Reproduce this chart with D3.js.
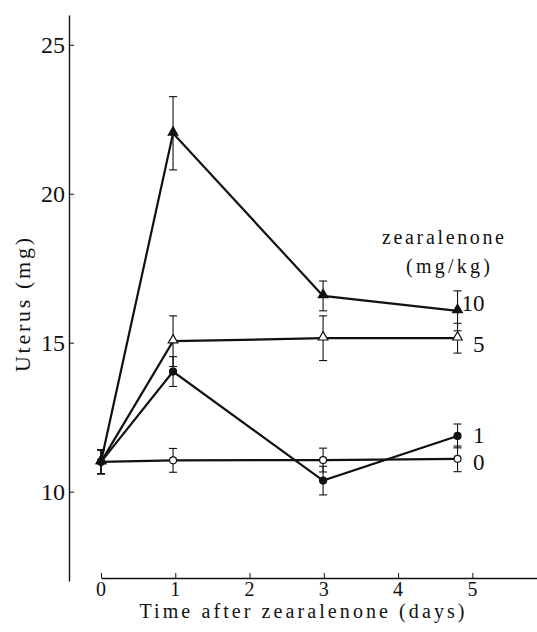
<!DOCTYPE html>
<html>
<head>
<meta charset="utf-8">
<script src="https://cdn.jsdelivr.net/npm/d3@7"></script>
</head>
<body style="margin:0">
<div id="chart"></div>
<script>
// days after injection (as plotted)
var days = [0, 0.97, 2.99, 4.8];

// uterus weight (mg), mean and error for each dose
var dose0 = [11.0, 11.05, 11.06, 11.1];
var err0 = [0.4, 0.4, 0.4, 0.43];
var dose1 = [11.0, 14.03, 10.37, 11.87];
var err1 = [0.4, 0.5, 0.48, 0.4];
var dose5 = [11.0, 15.05, 15.15, 15.15];
var err5 = [0.4, 0.85, 0.75, 0.5];
var dose10 = [11.0, 22.03, 16.57, 16.07];
var err10 = [0.4, 1.23, 0.5, 0.67];

var doseLabels = ['0', '1', '5', '10'];
var xTicks = [0, 1, 2, 3, 4, 5];
var yTicks = [10, 15, 20, 25];

var width = 537, height = 632;
var fontName = 'Liberation Serif';

var svg = d3.select('#chart')
	.append('svg')
	.attr('width', width)
	.attr('height', height);

var x = d3.scaleLinear().domain([0, 5.87]).range([101, 537]);
var y = d3.scaleLinear().domain([7, 26]).range([581, 15]);

// plain text helper, font set both ways
function addText(parent, txt, size) {
	return parent.append('text')
		.attr('font-family', fontName)
		.attr('font-size', size)
		.style('font-family', '"' + fontName + '"')
		.style('font-size', size + 'px')
		.attr('fill', '#111')
		.text(txt);
}

// y axis, ticks pointing inward, labels drawn by hand
var yAxis = svg.append('g')
	.attr('transform', 'translate(69,0)')
	.call(d3.axisLeft(y).tickValues(yTicks).tickFormat('').tickSizeInner(-5).tickSizeOuter(0));
yAxis.select('.domain').attr('stroke', '#111').attr('stroke-width', 1.4);
yAxis.selectAll('.tick line').attr('stroke', '#111');
yTicks.forEach(function (t) {
	addText(svg, String(t), 24)
		.attr('x', 65)
		.attr('y', y(t))
		.attr('dy', '0.34em')
		.attr('text-anchor', 'end');
});

// x axis, separate line starting at day 0
var xAxis = svg.append('g')
	.attr('transform', 'translate(0,578)')
	.call(d3.axisBottom(x).tickValues(xTicks).tickFormat('').tickSizeInner(-5).tickSizeOuter(0));
xAxis.select('.domain').attr('stroke', '#111').attr('stroke-width', 1.4);
xAxis.selectAll('.tick line').attr('stroke', '#111');
xTicks.forEach(function (t) {
	addText(svg, String(t), 20)
		.attr('x', x(t))
		.attr('y', 596)
		.attr('text-anchor', 'middle');
});

addText(svg, 'Time after zearalenone (days)', 20)
	.attr('x', 302)
	.attr('y', 618)
	.attr('text-anchor', 'middle')
	.attr('textLength', 325)
	.attr('lengthAdjust', 'spacing');

addText(svg, 'Uterus (mg)', 22)
	.attr('transform', 'translate(30,305) rotate(-90)')
	.attr('text-anchor', 'middle')
	.attr('textLength', 134)
	.attr('lengthAdjust', 'spacing');

// legend title
addText(svg, 'zearalenone', 20)
	.attr('x', 443)
	.attr('y', 244)
	.attr('text-anchor', 'middle')
	.attr('textLength', 122)
	.attr('lengthAdjust', 'spacing');
addText(svg, '(mg/kg)', 20)
	.attr('x', 448)
	.attr('y', 273)
	.attr('text-anchor', 'middle')
	.attr('textLength', 84)
	.attr('lengthAdjust', 'spacing');

var series = [
	{ name: doseLabels[0], values: dose0, errs: err0, shape: 'circle', filled: false, dy: 3 },
	{ name: doseLabels[1], values: dose1, errs: err1, shape: 'circle', filled: true, dy: -1 },
	{ name: doseLabels[2], values: dose5, errs: err5, shape: 'triangle', filled: false, dy: 6 },
	{ name: doseLabels[3], values: dose10, errs: err10, shape: 'triangle', filled: true, dy: -7.5 }
];

var line = d3.line()
	.x(function (d) { return x(d.day); })
	.y(function (d) { return y(d.v); });

function points(s) {
	return days.map(function (d, i) { return { day: d, v: s.values[i], e: s.errs[i] }; });
}

// error bars first
series.forEach(function (s) {
	var g = svg.append('g');
	points(s).forEach(function (p) {
		var cx = x(p.day);
		g.append('line')
			.attr('x1', cx).attr('x2', cx)
			.attr('y1', y(p.v + p.e)).attr('y2', y(p.v - p.e))
			.attr('stroke', '#111').attr('stroke-width', 1.1);
		[p.v + p.e, p.v - p.e].forEach(function (v) {
			g.append('line')
				.attr('x1', cx - 4).attr('x2', cx + 4)
				.attr('y1', y(v)).attr('y2', y(v))
				.attr('stroke', '#111').attr('stroke-width', 1.1);
		});
	});
});

series.forEach(function (s) {
	svg.append('path')
		.datum(points(s))
		.attr('d', line)
		.attr('fill', 'none')
		.attr('stroke', '#111')
		.attr('stroke-width', 2.2);
});

var tri = d3.symbol().type(d3.symbolTriangle).size(40);

series.forEach(function (s) {
	var pts = points(s);
	if (s.shape === 'circle') {
		svg.selectAll(null)
			.data(pts)
			.enter()
			.append('circle')
			.attr('cx', function (d) { return x(d.day); })
			.attr('cy', function (d) { return y(d.v); })
			.attr('r', 3.5)
			.attr('fill', s.filled ? '#111' : '#fff')
			.attr('stroke', '#111')
			.attr('stroke-width', 1.2);
	} else {
		svg.selectAll(null)
			.data(pts)
			.enter()
			.append('path')
			.attr('d', tri)
			.attr('transform', function (d) { return 'translate(' + x(d.day) + ',' + (y(d.v) - 1) + ')'; })
			.attr('fill', s.filled ? '#111' : '#fff')
			.attr('stroke', '#111')
			.attr('stroke-width', 1.2);
	}
	var last = pts[pts.length - 1];
	addText(svg, s.name, 23)
		.attr('x', x(last.day) + 27)
		.attr('y', y(last.v) + s.dy)
		.attr('dy', '0.35em')
		.attr('text-anchor', 'end');
});
</script>
</body>
</html>
